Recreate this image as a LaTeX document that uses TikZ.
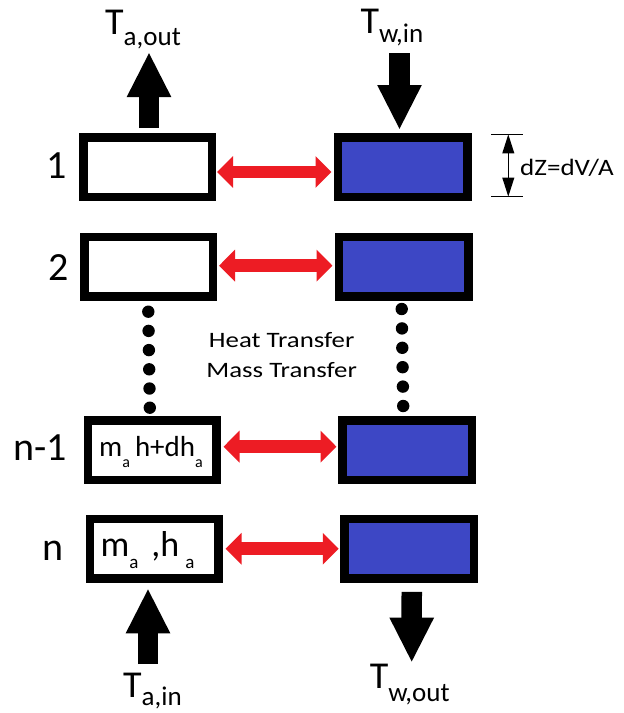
\documentclass[tikz,border=0pt]{standalone}
\usepackage{fontspec}
\setmainfont{Carlito}
\usetikzlibrary{arrows.meta}
\definecolor{wblue}{RGB}{61,71,197}
\definecolor{xred}{RGB}{237,28,36}
\newcommand\fs[1]{\fontsize{#1}{#1}\selectfont}
\newcommand\lowsub[3]{\lower#1pt\hbox{\fs{#2}#3}}
\begin{document}
\begin{tikzpicture}[x=1pt,y=-1pt,
  wbox/.style={draw=black, line width=8.5pt, fill=white, minimum width=128.5pt,
               minimum height=59.5pt, inner sep=0pt, outer sep=4.25pt},
  bbox/.style={wbox, fill=wblue, minimum width=129.5pt},
  xfer/.style={xred, line width=12.7pt, {Triangle[length=16pt,width=31pt]}-{Triangle[length=16pt,width=31pt]}},
  flow/.style={line width=20.5pt, -{Triangle[length=45pt,width=41pt]}},
  dimline/.style={line width=1.5pt, {Triangle[length=19pt,width=11.7pt]}-{Triangle[length=19pt,width=11.7pt]}},
  tick/.style={line width=1.5pt},
  lbl/.style={inner sep=0pt, anchor=base}]
\useasboundingbox[fill=white] (0,0) rectangle (624,713);

% boxes
\node[wbox] (W1) at (147.5,167) {};
\node[wbox] (W2) at (148.5,266.5) {};
\node[wbox] (W3) at (152,450) {};
\node[wbox] (W4) at (154,548.75) {};
\node[bbox] (B1) at (402.5,167) {};
\node[bbox] (B2) at (403.5,266.5) {};
\node[bbox] (B3) at (407,450) {};
\node[bbox] (B4) at (409.25,548.75) {};

% transfer arrows
\draw[xfer] ([xshift=1pt,yshift=-5pt]W1.east) -- ([xshift=-2pt,yshift=-5pt]B1.west);
\draw[xfer] ([xshift=2pt,yshift=0.8pt]W2.east) -- ([xshift=-2pt,yshift=0.8pt]B2.west);
\draw[xfer] ([xshift=3pt,yshift=3.3pt]W3.east) -- ([xshift=-1.5pt,yshift=3.3pt]B3.west);
\draw[xfer] ([xshift=3pt]W4.east) -- ([xshift=-1.5pt]B4.west);

% flow arrows
\coordinate (aoutT) at (149,52);
\coordinate (winS) at (399.5,53);
\coordinate (ainS) at (148,664);
\coordinate (woutT) at (411.7,662.7);
\draw[flow] ([xshift=1.5pt,yshift=5pt]W1.north) -- (aoutT);
\draw[flow] (winS) -- ([xshift=-3pt,yshift=3pt]B1.north);
\draw[flow] (ainS) -- ([xshift=-6pt,yshift=-5.5pt]W4.south);
\draw[flow] ([xshift=2.5pt,yshift=-9pt]B4.south) -- (woutT);

% dots
\foreach \i in {0,...,5}{
  \fill (148.3+0.3*\i, 311.7+19.2*\i) circle (6.2);
  \fill (401.7+0.3*\i, 309+19.4*\i) circle (6.2);
}

% dimension
\coordinate (dT) at (508.3,134.3);
\coordinate (dB) at (508.3,196.7);
\draw[tick] ([xshift=-17pt]dT) -- ([xshift=15pt]dT);
\draw[tick] ([xshift=-17pt]dB) -- ([xshift=15pt]dB);
\draw[dimline] (dT) -- (dB);
\node[lbl, font=\fs{23.5}] (dz) at (567,175) {\scalebox{1.15}[1]{dZ=dV/A}};

% stream labels
\node[lbl, font=\fs{38}] (Taout) at (143,34) {T\lowsub{11}{27}{a,out}};
\node[lbl, font=\fs{38}] (Twin) at (392,33) {T\lowsub{9}{27}{w,in}};
\node[lbl, font=\fs{38}] (Tain) at (152.5,697) {T\lowsub{8}{27}{a,in}};
\node[lbl, font=\fs{38}] (Twout) at (409.7,688) {T\lowsub{13}{27}{w,out}};

% row labels
\node[lbl, font=\fs{40}] (r1) at (56.5,178) {1};
\node[lbl, font=\fs{40}] (r2) at (58.3,280) {2};
\node[lbl, font=\fs{40}] (r3) at (40.5,460) {n-1};
\node[lbl, font=\fs{40}] (r4) at (53.3,560) {n};

% middle text
\node[lbl, font=\fs{22}] (ht) at (281.7,347.3) {\scalebox{1.22}[1]{Heat Transfer}};
\node[lbl, font=\fs{22}] (mt) at (281.7,377.3) {\scalebox{1.22}[1]{Mass Transfer}};

% box texts
\node[lbl, font=\fs{29}] (t3) at (151,456.7) {m\lowsub{11}{16}{a}\hspace{5pt}h+dh\lowsub{11}{16}{a}};
\node[lbl, font=\fs{36}] (t4) at (147.5,556.7) {m\lowsub{11.6}{19}{a}\hspace{13pt},h\hspace{6pt}\lowsub{11.6}{19}{a}};
\end{tikzpicture}
\end{document}
